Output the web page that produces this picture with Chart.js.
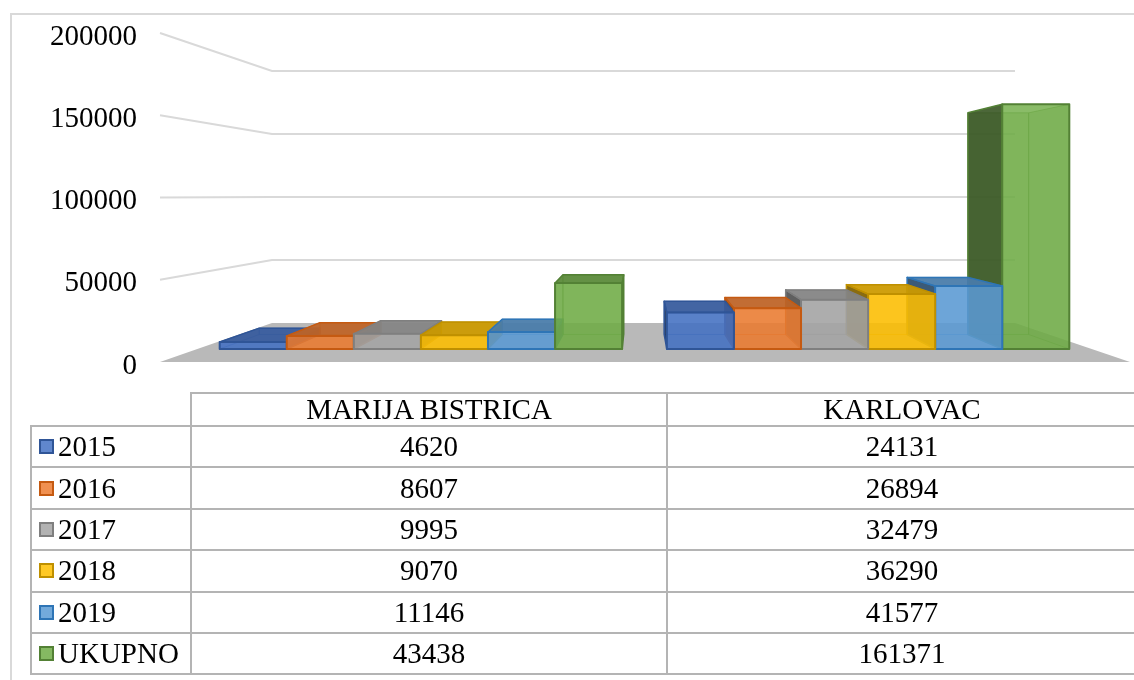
<!DOCTYPE html>
<html>
<head>
<meta charset="utf-8">
<script src="https://cdn.jsdelivr.net/npm/chart.js@4.4.1/dist/chart.umd.min.js"></script>
<style>
  html, body { margin: 0; padding: 0; background: #fff; width: 1134px; height: 680px; overflow: hidden; }
  #frame { position: absolute; left: 10px; top: 13px; width: 1150px; height: 700px; border: 2px solid #d9d9d9; box-sizing: border-box; }
  #chart { position: absolute; left: 0; top: 0; }
  #dataTable {
    position: absolute; left: 30px; top: 392px;
    border-collapse: collapse; table-layout: fixed; width: 1106px;
    font-family: "Liberation Serif", "Times New Roman", serif; font-size: 29px; color: #000;
  }
  #dataTable td, #dataTable th {
    border: 2px solid #b4b4b4; padding: 0; text-align: center; font-weight: normal;
    line-height: 1; white-space: nowrap; overflow: hidden;
  }
  #dataTable th.blank { border: none; }
  #dataTable tr.head { height: 33px; }
  #dataTable tr.row { height: 41.4px; }
  #dataTable td.key { text-align: left; }
  .key div { display: flex; align-items: center; padding-left: 7px; }
  .sw { width: 11px; height: 11px; border: 2px solid; margin-right: 4px; }
</style>
</head>
<body>
<div id="frame"></div>
<canvas id="chart" width="1134" height="680"></canvas>
<table id="dataTable"></table>

<script>
// data
const categories = ["MARIJA BISTRICA", "KARLOVAC"];
const seriesNames = ["2015", "2016", "2017", "2018", "2019", "UKUPNO"];
const v2015 = [4620, 24131];
const v2016 = [8607, 26894];
const v2017 = [9995, 32479];
const v2018 = [9070, 36290];
const v2019 = [11146, 41577];
const vUkupno = [43438, 161371];
const yTicks = [0, 50000, 100000, 150000, 200000];

const seriesValues = [v2015, v2016, v2017, v2018, v2019, vUkupno];
const colors = ["#4472C4", "#ED7D31", "#A5A5A5", "#FFC000", "#5B9BD5", "#70AD47"];
const edges  = ["#2F5597", "#C55A11", "#7F7F7F", "#BF9000", "#2E75B6", "#538135"];

// perspective (fractions of chart area / depth scale factors)
const VP_X = 0.4934, VP_Y = 0.5067;
const S_WALL = 0.766, S_FRONT = 0.922, S_BACK = 0.835;

function rgb(hex) {
  const n = parseInt(hex.slice(1), 16);
  return [(n >> 16) & 255, (n >> 8) & 255, n & 255];
}
function tint(hex, f, a) {
  const c = rgb(hex).map(v => Math.round(v * f));
  return `rgba(${c[0]},${c[1]},${c[2]},${a})`;
}

// =========================
// 3D DRAWING PLUGIN
// =========================
const bar3d = {
  id: "bar3d",
  beforeDatasetsDraw(chart) {
    const c = chart.ctx;
    const a = chart.chartArea;
    const ys = chart.scales.y;
    const vx = a.left + VP_X * (a.right - a.left);
    const vy = a.bottom - VP_Y * (a.bottom - a.top);
    const P = (x, y, s) => [vx + (x - vx) * s, vy + (y - vy) * s];

    const poly = (pts, fill, stroke, lw) => {
      c.beginPath();
      pts.forEach((p, k) => k ? c.lineTo(p[0], p[1]) : c.moveTo(p[0], p[1]));
      c.closePath();
      if (fill) { c.fillStyle = fill; c.fill(); }
      if (stroke) { c.strokeStyle = stroke; c.lineWidth = lw; c.lineJoin = "round"; c.stroke(); }
    };

    c.save();

    // floor
    const y0 = ys.getPixelForValue(0);
    poly([[a.left, y0], [a.right, y0], P(a.right, y0, S_WALL), P(a.left, y0, S_WALL)], "#b9b9b9");

    // gridlines: side wall + back wall
    c.strokeStyle = "#d9d9d9";
    c.lineWidth = 2;
    yTicks.filter(v => v > 0).forEach(v => {
      const y = ys.getPixelForValue(v);
      const p1 = P(a.left, y, S_WALL), p2 = P(a.right, y, S_WALL);
      c.beginPath();
      c.moveTo(a.left, y);
      c.lineTo(p1[0], p1[1]);
      c.lineTo(p2[0], p2[1]);
      c.stroke();
    });

    // collect boxes, draw farthest from vanishing point first
    const boxes = [];
    chart.data.datasets.forEach((ds, i) => {
      chart.getDatasetMeta(i).data.forEach(el => {
        boxes.push({ i, xl: el.x - el.width / 2, xr: el.x + el.width / 2, yt: el.y, yb: el.base, cx: el.x });
      });
    });
    boxes.sort((p, q) => Math.abs(q.cx - vx) - Math.abs(p.cx - vx));

    boxes.forEach(b => {
      const col = colors[b.i], edge = edges[b.i];
      const F = (x, y) => P(x, y, S_FRONT), B = (x, y) => P(x, y, S_BACK);
      const { xl, xr, yt, yb } = b;

      // back + bottom, seen through
      poly([B(xl, yt), B(xr, yt), B(xr, yb), B(xl, yb)], tint(col, 0.85, 0.35), tint(edge, 1, 0.6), 1);
      poly([F(xl, yb), F(xr, yb), B(xr, yb), B(xl, yb)], tint(col, 0.85, 0.35), null);

      // sides
      const leftVis = xl > vx, rightVis = xr < vx;
      poly([F(xl, yt), B(xl, yt), B(xl, yb), F(xl, yb)],
        leftVis ? tint(col, 0.5, 0.9) : tint(col, 0.8, 0.35), tint(edge, 1, leftVis ? 1 : 0.6), leftVis ? 1.5 : 1);
      poly([F(xr, yt), B(xr, yt), B(xr, yb), F(xr, yb)],
        rightVis ? tint(col, 0.6, 0.9) : tint(col, 0.8, 0.35), tint(edge, 1, rightVis ? 1 : 0.6), rightVis ? 1.5 : 1);

      // top
      if (yt > vy) {
        poly([F(xl, yt), F(xr, yt), B(xr, yt), B(xl, yt)], tint(col, 0.8, 0.9), edge, 1.5);
      }

      // front
      poly([F(xl, yt), F(xr, yt), F(xr, yb), F(xl, yb)], tint(col, 1, 0.82), edge, 2);
    });

    c.restore();
    return false;
  }
};

new Chart(document.getElementById("chart"), {
  type: "bar",
  data: {
    labels: categories,
    datasets: seriesNames.map((n, i) => ({
      label: n,
      data: seriesValues[i],
      backgroundColor: colors[i],
      borderColor: edges[i]
    }))
  },
  options: {
    responsive: false,
    animation: false,
    devicePixelRatio: 1,
    layout: { padding: { top: 33, right: 4, bottom: 318, left: 0 } },
    plugins: { legend: { display: false }, tooltip: { enabled: false } },
    datasets: { bar: { categoryPercentage: 0.9, barPercentage: 1 } },
    scales: {
      x: { display: false },
      y: {
        min: 0,
        max: 200000,
        afterFit: s => { s.width = 160; s.paddingTop = 0; s.paddingBottom = 0; },
        grid: { display: false, drawTicks: false },
        border: { display: false },
        ticks: {
          stepSize: 50000,
          padding: 23,
          labelOffset: 4,
          color: "#000",
          callback: v => String(v),
          font: { family: "'Liberation Serif', 'Times New Roman', serif", size: 29 }
        }
      }
    }
  },
  plugins: [bar3d]
});

// =========================
// DATA TABLE
// =========================
const table = document.getElementById("dataTable");
let html = '<colgroup><col style="width:160px"><col style="width:476px"><col style="width:470px"></colgroup>';
html += '<tr class="head"><th class="blank"></th>' + categories.map(c => `<th>${c}</th>`).join("") + "</tr>";
seriesNames.forEach((n, i) => {
  html += `<tr class="row"><td class="key"><div><span class="sw" style="background:${tint(colors[i], 1, 0.85)};border-color:${edges[i]}"></span>${n}</div></td>`;
  html += seriesValues[i].map(v => `<td>${v}</td>`).join("") + "</tr>";
});
table.innerHTML = html;
</script>
</body>
</html>
